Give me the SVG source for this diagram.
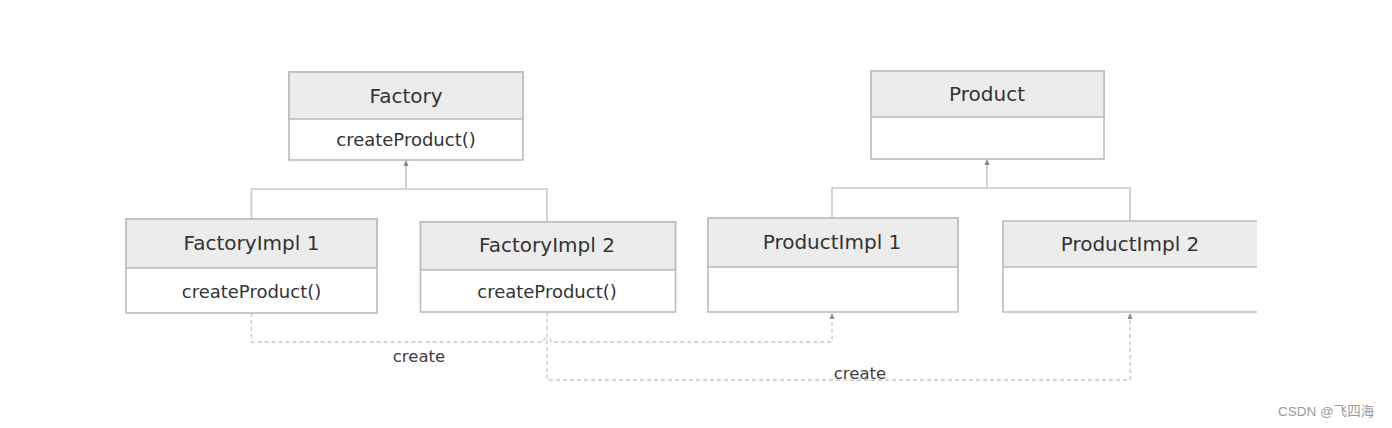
<svg xmlns="http://www.w3.org/2000/svg" width="1392" height="428" viewBox="0 0 1392 428">
<style>
.box{fill:#ffffff;stroke:#bcbcbc;stroke-width:1.6}
.hdr{fill:#ececec;stroke:#bcbcbc;stroke-width:1.6}
.solid{fill:none;stroke:#c9c9c9;stroke-width:1.6}
.dash{fill:none;stroke:#c6c6c6;stroke-width:1.3;stroke-dasharray:4 3}
.t{font-family:"DejaVu Sans",Verdana,sans-serif;fill:#333333;text-anchor:middle}
.h{font-size:20px}
.m{font-size:18px}
.lbl{font-family:"DejaVu Sans",Verdana,sans-serif;font-size:16.5px;fill:#404040;text-anchor:middle}
.wm{font-family:"Liberation Sans","Noto Sans CJK SC",sans-serif;font-size:13.5px;fill:#9a9a9a}
</style>
<defs>
<marker id="arr" markerWidth="6" markerHeight="6" refX="5" refY="3" orient="auto" markerUnits="userSpaceOnUse">
<path d="M0,0.5 L6,3 L0,5.5 z" fill="#8a8a8a"/>
</marker>
</defs>
<rect width="1392" height="428" fill="#ffffff"/>

<g id="connectors">
<path class="solid" d="M251.5,219 V189 H547 V222"/>
<path class="solid" d="M406,189 V161" marker-end="url(#arr)"/>
<path class="solid" d="M832,218 V188 H1130 V221"/>
<path class="solid" d="M987,188 V160" marker-end="url(#arr)"/>
<path class="dash" d="M251.5,313 V342 H543 A4,4 0 0 1 551,342 H832 V314" marker-end="url(#arr)"/>
<path class="dash" d="M547,312 V380 H1130 V314" marker-end="url(#arr)"/>
<text class="lbl" x="419" y="362">create</text>
<text class="lbl" x="860" y="379">create</text>
</g>

<g id="factory">
<rect class="box" x="289" y="72" width="234" height="88"/>
<rect class="hdr" x="289" y="72" width="234" height="47"/>
<text class="t h" x="406" y="103">Factory</text>
<text class="t m" x="406" y="146">createProduct()</text>
</g>

<g id="factoryimpl1">
<rect class="box" x="126" y="219" width="251" height="94"/>
<rect class="hdr" x="126" y="219" width="251" height="49"/>
<text class="t h" x="251.5" y="250">FactoryImpl 1</text>
<text class="t m" x="251.5" y="298">createProduct()</text>
</g>

<g id="factoryimpl2">
<rect class="box" x="420.5" y="222" width="255" height="90"/>
<rect class="hdr" x="420.5" y="222" width="255" height="48"/>
<text class="t h" x="547" y="252">FactoryImpl 2</text>
<text class="t m" x="547" y="298">createProduct()</text>
</g>

<g id="product">
<rect class="box" x="871" y="71" width="233" height="88"/>
<rect class="hdr" x="871" y="71" width="233" height="46"/>
<text class="t h" x="987" y="101">Product</text>
</g>

<g id="productimpl1">
<rect class="box" x="708" y="218" width="250" height="94"/>
<rect class="hdr" x="708" y="218" width="250" height="49"/>
<text class="t h" x="832" y="249">ProductImpl 1</text>
</g>

<g id="productimpl2">
<rect x="1003" y="221" width="254" height="91" fill="#ffffff"/>
<rect x="1003" y="221" width="254" height="46" fill="#ececec"/>
<path d="M1257,221 H1003 V312 H1257 M1003,267 H1257" fill="none" stroke="#bcbcbc" stroke-width="1.6"/>
<text class="t h" x="1130" y="251">ProductImpl 2</text>
</g>

<text class="wm" x="1278" y="416">CSDN @飞四海</text>
</svg>
